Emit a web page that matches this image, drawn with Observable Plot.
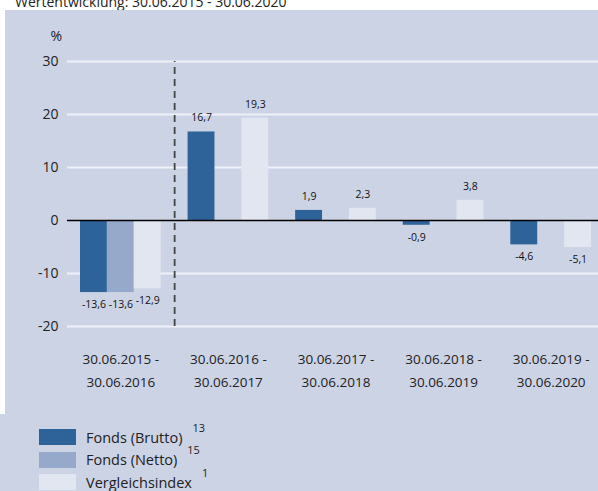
<!DOCTYPE html>
<html>
<head>
<meta charset="utf-8">
<script src="https://cdn.jsdelivr.net/npm/d3@7"></script>
<script src="https://cdn.jsdelivr.net/npm/@observablehq/plot@0.6"></script>
<style>
  html, body { margin: 0; padding: 0; background: #fff; }
  body { width: 598px; height: 491px; position: relative; overflow: hidden; font-family: "Open Sans", sans-serif; color: #222; }
  #title { position: absolute; left: 15px; top: -8px; font-size: 14px; line-height: 19px; white-space: nowrap; color: #222; }
  #panel { position: absolute; left: 5px; top: 10px; width: 593px; height: 404px; background: #CCD3E5; }
  #chart { position: absolute; left: 0; top: 0; }
  #legend { position: absolute; left: 0; top: 414px; width: 598px; height: 77px; background: #CCD3E5; }
  .row { position: absolute; left: 39px; height: 16px; display: flex; align-items: center; }
  .sw { width: 37px; height: 16px; margin-right: 10px; }
  .lab { font-size: 14.5px; color: #222; white-space: nowrap; }
  .sup { font-size: 11px; position: relative; top: -10px; margin-left: 10px; color: #222; }
</style>
</head>
<body>
<div id="title">Wertentwicklung: 30.06.2015 - 30.06.2020</div>
<div id="panel"></div>
<div id="chart"></div>
<div id="legend"></div>
<script>
// ---- data ----
const periods = [
  "30.06.2015 -\n30.06.2016",
  "30.06.2016 -\n30.06.2017",
  "30.06.2017 -\n30.06.2018",
  "30.06.2018 -\n30.06.2019",
  "30.06.2019 -\n30.06.2020"
];
const series = ["Fonds (Brutto)", "Fonds (Netto)", "Vergleichsindex"];
const seriesNotes = ["13", "15", "1"];
const brutto = [-13.6, 16.7, 1.9, -0.9, -4.6];
const netto = [-13.6, null, null, null, null];
const vergleich = [-12.9, 19.3, 2.3, 3.8, -5.1];
const yTicks = [-20, -10, 0, 10, 20, 30];
const colors = ["#2D6399", "#97A9CB", "#E2E6F0"];

// ---- derived table ----
const valuesBySeries = [brutto, netto, vergleich];
const keys = [];
periods.forEach((p, i) => {
  series.forEach(s => keys.push(i + "|" + s));
  if (i < periods.length - 1) keys.push(i + "|gap");
});
const data = [];
periods.forEach((p, i) => {
  valuesBySeries.forEach((arr, j) => {
    if (arr[i] != null) data.push({key: i + "|" + series[j], period: p, series: series[j], value: arr[i]});
  });
});
const fmt = v => v.toFixed(1).replace(".", ",");

const chart = Plot.plot({
  width: 598,
  height: 414,
  marginLeft: 80,
  marginRight: 7,
  marginTop: 61,
  marginBottom: 88,
  style: {background: "transparent", fontFamily: "'Open Sans', sans-serif", color: "#222"},
  x: {type: "band", domain: keys, padding: 0, round: false, axis: null, label: null},
  y: {domain: [-20, 30], axis: null, label: null},
  color: {domain: series, range: colors},
  marks: [
    Plot.ruleY(yTicks.filter(d => d !== 0), {stroke: "#EEF1F7", strokeWidth: 2, insetLeft: -13, insetRight: -7}),
    Plot.barY(data, {x: "key", y: "value", fill: "series"}),
    Plot.ruleY([0], {stroke: "#000", strokeWidth: 1.3, insetLeft: -13, insetRight: -7}),
    Plot.ruleX([keys[3]], {y1: -20, y2: 30, stroke: "#444", strokeWidth: 1.8, strokeDasharray: "7,5"}),
    Plot.text(data.filter(d => d.value >= 0), {x: "key", y: "value", text: d => fmt(d.value), dy: -14, fontSize: 10.5, fill: "#111"}),
    Plot.text(data.filter(d => d.value < 0), {x: "key", y: "value", text: d => fmt(d.value), dy: 12, fontSize: 10.5, fill: "#111"}),
    Plot.axisY({ticks: yTicks, tickFormat: d => String(d), tickSize: 0, tickPadding: 22, fontSize: 14, label: null}),
    Plot.axisX({
      ticks: periods.map((p, i) => i + "|" + series[1]),
      tickFormat: k => periods[+k.split("|")[0]],
      tickSize: 0, tickPadding: 21, lineHeight: 1.7, fontSize: 13.5, label: null
    }),
    Plot.text(["%"], {frameAnchor: "top-left", dx: -30, dy: -30, fontSize: 14, fill: "#222"})
  ]
});
document.getElementById("chart").appendChild(chart);

// ---- legend ----
const legend = document.getElementById("legend");
series.forEach((s, i) => {
  const row = document.createElement("div");
  row.className = "row";
  row.style.top = (15 + i * 22.5) + "px";
  row.innerHTML = `<div class="sw" style="background:${colors[i]}"></div><span class="lab">${s}</span><span class="sup">${seriesNotes[i]}</span>`;
  legend.appendChild(row);
});
</script>
</body>
</html>
